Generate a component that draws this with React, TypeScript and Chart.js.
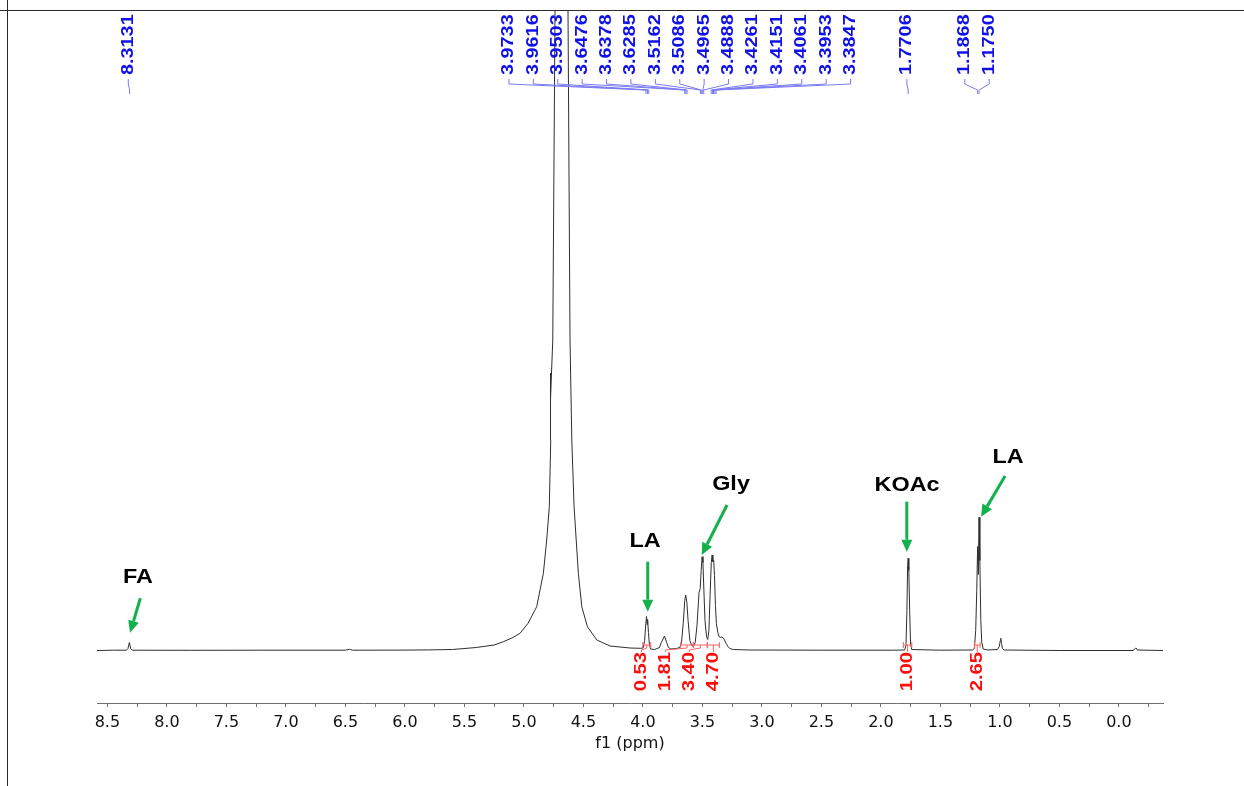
import React, { useEffect, useRef } from 'react';
import { Chart, registerables } from 'chart.js';

Chart.register(...registerables);

// ---- Spectrum (chemical shift in ppm, intensity in arbitrary units) ----
const PPM = [
  8.587, 8.45, 8.34, 8.327, 8.315, 8.304, 8.29, 7.8, 7.2, 6.5, 6.465, 6.44, 6.0, 5.8, 5.6, 5.4, 5.25,
  5.172, 5.1, 5.032, 4.965, 4.892, 4.836, 4.808, 4.786, 4.774, 4.7765, 4.7765, 4.7745, 4.757, 4.738,
  4.684, 4.629, 4.612, 4.597, 4.578, 4.542, 4.513, 4.466, 4.387, 4.276, 4.108, 4.02,
  3.997, 3.985, 3.975, 3.969, 3.964, 3.96, 3.953, 3.945, 3.935, 3.9, 3.86, 3.845, 3.818, 3.8, 3.785,
  3.765, 3.72, 3.69, 3.675, 3.66, 3.648, 3.64, 3.63, 3.62, 3.605, 3.59, 3.575, 3.56, 3.545, 3.528,
  3.518, 3.51, 3.502, 3.495, 3.487, 3.478, 3.465, 3.455, 3.445, 3.435, 3.425, 3.418, 3.412, 3.405,
  3.398, 3.39, 3.382, 3.37, 3.36, 3.345, 3.335, 3.32, 3.3, 3.285, 3.27, 3.24, 3.1, 2.5, 1.9,
  1.8, 1.789, 1.781, 1.775, 1.7706, 1.765, 1.758, 1.75, 1.74, 1.5,
  1.23, 1.214, 1.203, 1.194, 1.1868, 1.181, 1.175, 1.168, 1.16, 1.152, 1.14, 1.1,
  1.02, 1.005, 0.996, 0.992, 0.986, 0.978, 0.965, 0.5, -0.12, -0.138, -0.145, -0.155, -0.371,
];
const INTENSITY = [
  0, 0.3, 0.3, 2, 8, 2, 0.3, 0.2, 0.3, 0.3, 1.2, 0.3, 0.4, 0.6, 1, 3, 5.5,
  8.8, 12.5, 17.2, 27.2, 43.8, 77.2, 110.5, 143.8, 210.5, 247.5, 277.5, 252, 310.5, 640,
  3000, 640, 310.5, 210.5, 143.8, 77.2, 43.8, 23.8, 10.5, 4.5, 2.5, 2.2,
  2.5, 10, 27, 34, 26, 31, 18, 6, 1.5, 1, 3, 8, 14.5, 8, 3,
  1.5, 2, 3, 8, 28, 50, 55.5, 48, 30, 10, 5, 4, 8, 25, 58,
  62, 80, 93.8, 88, 60, 30, 14, 11, 20, 55, 88, 95.5, 89, 90.5,
  75, 45, 27, 18, 14, 13, 13.5, 12, 7, 4, 2, 1, 0.5, 0.3, 0.3,
  0.5, 5, 40, 85, 92.2, 80, 40, 6, 1, 0.3,
  0.5, 2, 20, 60, 104, 76, 133.2, 90, 30, 8, 1.5, 0.5,
  1, 4, 10, 12.2, 7, 2, 0.5, 0, 0, 2, 2.5, 0.5, 0,
];

// ---- Axis ----
const X_MIN = -0.371;
const X_MAX = 8.587;
const Y_MIN = -52.5;
const Y_MAX = 639.5;
const X_TICK_STEP = 0.25;
const X_TITLE = 'f1 (ppm)';

// ---- Peak picking (blue) ----
const PEAK_GROUPS: number[][] = [
  [8.3131],
  [3.9733, 3.9616, 3.9503, 3.6476, 3.6378, 3.6285, 3.5162, 3.5086, 3.4965, 3.4888, 3.4261, 3.4151, 3.4061, 3.3953, 3.3847],
  [1.7706],
  [1.1868, 1.175],
];

// ---- Integrals (red) ----
const INTEGRAL_FROM = [4.001, 3.682, 3.576, 3.458, 1.811, 1.214];
const INTEGRAL_TO = [3.934, 3.576, 3.458, 3.357, 1.74, 1.166];
const INTEGRAL_VALUES = ['0.53', '1.81', '3.40', '4.70', '1.00', '2.65'];

// ---- Annotations (text anchor and arrow, in ppm / intensity) ----
const ANNOT_TEXT = ['FA', 'LA', 'Gly', 'KOAc', 'LA'];
const ANNOT_PPM = [8.242, 3.982, 3.259, 1.78, 0.931];
const ANNOT_INT = [67.2, 103.5, 160.5, 159.5, 187.5];
const ARROW_FROM_PPM = [8.223, 3.959, 3.293, 1.782, 0.956];
const ARROW_FROM_INT = [52.2, 88.8, 145.5, 148.8, 174.5];
const ARROW_TO_PPM = [8.309, 3.959, 3.505, 1.782, 1.158];
const ARROW_TO_INT = [17.8, 38.8, 95.5, 98.8, 133.8];

const BLUE = '#1010e8';
const BLUE_LINE = '#7a7af2';
const RED = '#ff0c0c';
const RED_LINE = '#ff6060';
const GREEN = '#14b04c';

function drawRotated(ctx: CanvasRenderingContext2D, text: string, x: number, y: number, align: CanvasTextAlign, color: string, stretch: number) {
  ctx.save();
  ctx.translate(x, y);
  ctx.rotate(-Math.PI / 2);
  ctx.scale(stretch, 1);
  ctx.fillStyle = color;
  ctx.font = 'bold 16px "Liberation Sans", Arial, sans-serif';
  ctx.textAlign = align;
  ctx.textBaseline = 'middle';
  ctx.fillText(text, 0, 0);
  ctx.restore();
}

function drawArrow(ctx: CanvasRenderingContext2D, x1: number, y1: number, x2: number, y2: number) {
  const ang = Math.atan2(y2 - y1, x2 - x1);
  const headLen = 12;
  const headW = 5.5;
  const bx = x2 - headLen * Math.cos(ang);
  const by = y2 - headLen * Math.sin(ang);
  ctx.strokeStyle = GREEN;
  ctx.lineWidth = 3;
  ctx.lineCap = 'butt';
  ctx.beginPath();
  ctx.moveTo(x1, y1);
  ctx.lineTo(bx, by);
  ctx.stroke();
  ctx.fillStyle = GREEN;
  ctx.beginPath();
  ctx.moveTo(x2, y2);
  ctx.lineTo(bx + headW * Math.sin(ang), by - headW * Math.cos(ang));
  ctx.lineTo(bx - headW * Math.sin(ang), by + headW * Math.cos(ang));
  ctx.closePath();
  ctx.fill();
}

const overlayPlugin = {
  id: 'nmrOverlay',
  afterDraw(chart: any) {
    const ctx: CanvasRenderingContext2D = chart.ctx;
    const xs = chart.scales.x;
    const ys = chart.scales.y;
    const top = chart.chartArea.top;
    ctx.save();

    // page frame
    ctx.strokeStyle = '#2a2a2a';
    ctx.lineWidth = 1;
    ctx.beginPath();
    ctx.moveTo(0, 10.5);
    ctx.lineTo(chart.width, 10.5);
    ctx.moveTo(7.5, 0);
    ctx.lineTo(7.5, chart.height);
    ctx.stroke();

    // peak labels
    const spacing = 24.4;
    PEAK_GROUPS.forEach((group) => {
      const px = group.map((p) => xs.getPixelForValue(p));
      const mid = (Math.min(...px) + Math.max(...px)) / 2 - 1.3;
      group.forEach((p, i) => {
        const lx = mid + (i - (group.length - 1) / 2) * spacing;
        ctx.strokeStyle = BLUE_LINE;
        ctx.lineWidth = 1;
        ctx.beginPath();
        ctx.moveTo(lx, top + 68);
        ctx.lineTo(lx, top + 73);
        ctx.lineTo(px[i], top + 79);
        ctx.lineTo(px[i], top + 83);
        ctx.stroke();
        drawRotated(ctx, p.toFixed(4), lx, top + 64, 'left', BLUE, 1.24);
      });
    });

    // integrals
    const centers = INTEGRAL_FROM.map((f, i) => (xs.getPixelForValue(f) + xs.getPixelForValue(INTEGRAL_TO[i])) / 2);
    const order = centers.map((_, i) => i).sort((a, b) => centers[b] - centers[a]);
    const labelX: number[] = [];
    let prev = Infinity;
    order.forEach((idx) => {
      const lx = Math.min(centers[idx], prev - 24);
      labelX[idx] = lx;
      prev = lx;
    });
    const bracketY = ys.getPixelForValue(5.5);
    const labelTop = ys.getPixelForValue(-1.5);
    INTEGRAL_VALUES.forEach((val, i) => {
      const a = xs.getPixelForValue(INTEGRAL_FROM[i]);
      const b = xs.getPixelForValue(INTEGRAL_TO[i]);
      ctx.strokeStyle = RED_LINE;
      ctx.lineWidth = 1;
      ctx.beginPath();
      ctx.moveTo(a, bracketY - 3);
      ctx.lineTo(a, bracketY + 3);
      ctx.moveTo(a, bracketY);
      ctx.lineTo(b, bracketY);
      ctx.moveTo(b, bracketY - 3);
      ctx.lineTo(b, bracketY + 3);
      ctx.moveTo(labelX[i], labelTop);
      ctx.lineTo(labelX[i], labelTop - 2);
      ctx.lineTo(centers[i], bracketY + 3);
      ctx.lineTo(centers[i], bracketY);
      ctx.stroke();
      drawRotated(ctx, val, labelX[i], labelTop, 'right', RED, 1.26);
    });

    // annotations
    ANNOT_TEXT.forEach((t, i) => {
      drawArrow(
        ctx,
        xs.getPixelForValue(ARROW_FROM_PPM[i]),
        ys.getPixelForValue(ARROW_FROM_INT[i]),
        xs.getPixelForValue(ARROW_TO_PPM[i]),
        ys.getPixelForValue(ARROW_TO_INT[i])
      );
      ctx.save();
      ctx.translate(xs.getPixelForValue(ANNOT_PPM[i]), ys.getPixelForValue(ANNOT_INT[i]));
      ctx.scale(1.17, 1);
      ctx.fillStyle = '#000';
      ctx.font = 'bold 20px "Liberation Sans", Arial, sans-serif';
      ctx.textAlign = 'center';
      ctx.textBaseline = 'alphabetic';
      ctx.fillText(t, 0, 0);
      ctx.restore();
    });

    ctx.restore();
  },
};

export default function App() {
  const canvasRef = useRef<HTMLCanvasElement | null>(null);

  useEffect(() => {
    if (!canvasRef.current) return;
    const chart = new Chart(canvasRef.current, {
      type: 'line',
      data: {
        datasets: [
          {
            data: PPM.map((p, i) => ({ x: p, y: INTENSITY[i] })),
            borderColor: '#2e2e2e',
            borderWidth: 1,
            pointRadius: 0,
            tension: 0,
            fill: false,
          },
        ],
      },
      options: {
        animation: false,
        responsive: false,
        devicePixelRatio: 1,
        layout: { padding: { left: 97, right: 81, top: 11, bottom: 0 } },
        plugins: { legend: { display: false }, tooltip: { enabled: false } },
        scales: {
          x: {
            type: 'linear',
            reverse: true,
            min: X_MIN,
            max: X_MAX,
            afterFit: (s: any) => {
              s.height = 83;
            },
            border: { display: true, color: '#6e6e6e', width: 1 },
            grid: { drawOnChartArea: false, drawTicks: true, tickLength: 4, color: '#6e6e6e' },
            ticks: {
              stepSize: X_TICK_STEP,
              autoSkip: false,
              maxRotation: 0,
              includeBounds: false,
              maxTicksLimit: 200,
              padding: 6,
              color: '#111',
              font: { family: '"DejaVu Sans", sans-serif', size: 16 },
              callback: (v: any) => {
                const n = Number(v);
                return Math.abs(n * 2 - Math.round(n * 2)) < 1e-6 ? (Math.abs(n) < 1e-9 ? 0 : n).toFixed(1) : '';
              },
            },
            title: {
              display: true,
              text: X_TITLE,
              color: '#111',
              font: { family: '"DejaVu Sans", sans-serif', size: 16 },
              padding: { top: 0, bottom: 33 },
            },
          },
          y: { display: false, min: Y_MIN, max: Y_MAX },
        },
      },
      plugins: [overlayPlugin],
    } as any);
    return () => chart.destroy();
  }, []);

  return (
    <div style={{ position: 'absolute', left: 0, top: 0, width: 1244, height: 786, background: '#fff' }}>
      <canvas ref={canvasRef} width={1244} height={786} style={{ display: 'block' }} />
    </div>
  );
}
